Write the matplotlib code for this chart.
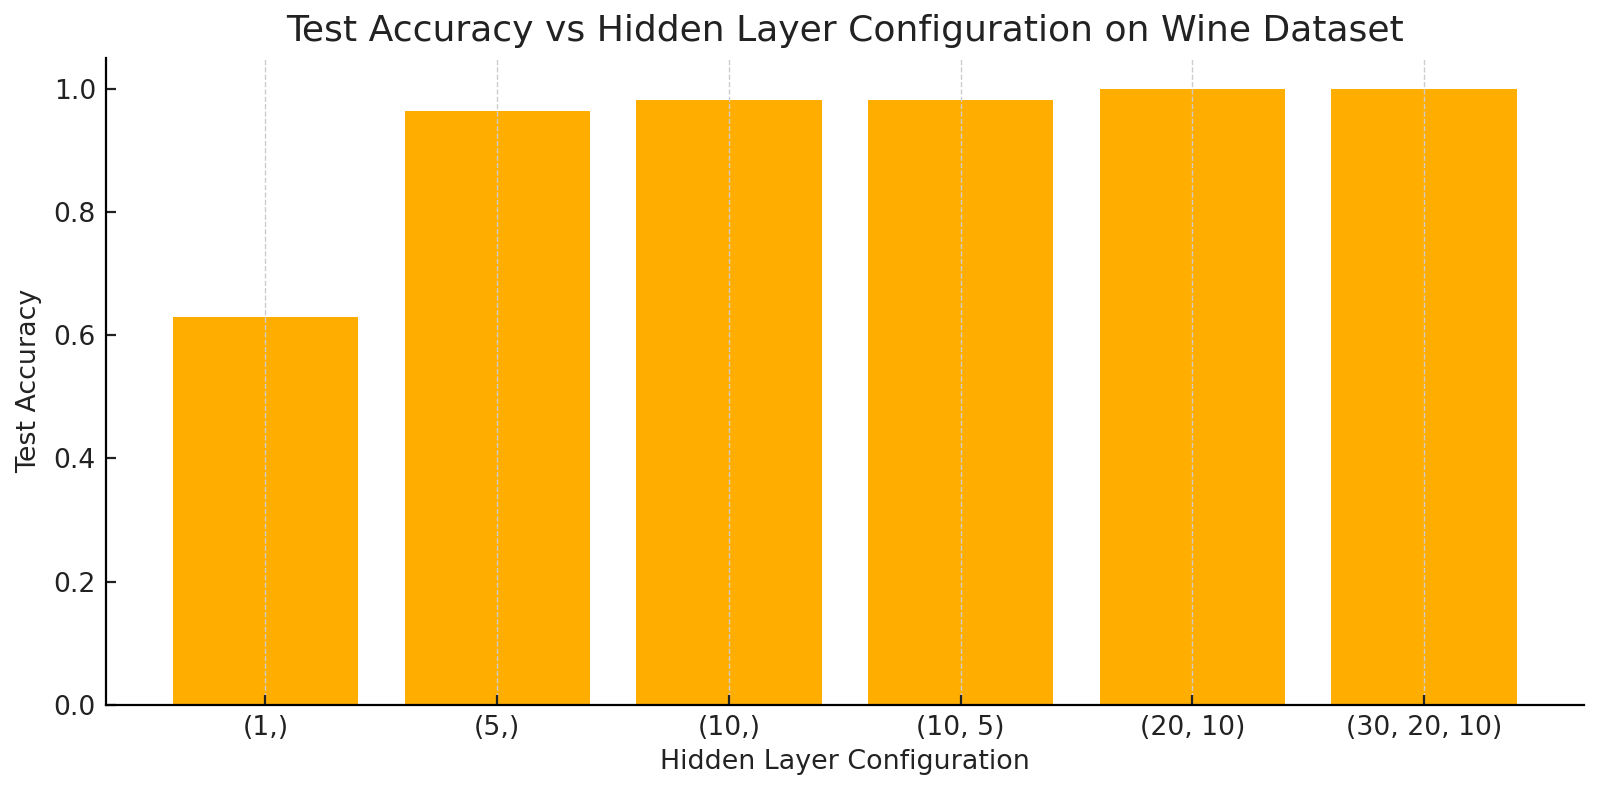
import matplotlib.pyplot as plt

configs = ["(1,)", "(5,)", "(10,)", "(10, 5)", "(20, 10)", "(30, 20, 10)"]
accuracy = [0.6296, 0.9630, 0.9815, 0.9815, 1.0, 1.0]

fig, ax = plt.subplots(figsize=(8, 3.96), dpi=200)
fig.subplots_adjust(left=0.066, right=0.99, bottom=0.11, top=0.927)

ax.bar(configs, accuracy, width=0.8, color="#ffae00")
ax.set_ylim(0, 1.05)
ax.grid(axis="x", linestyle="--", color="#cccccc", linewidth=0.5)

ax.spines["top"].set_visible(False)
ax.spines["right"].set_visible(False)
ax.tick_params(direction="in", labelsize=9.6, colors="#222222", labelcolor="#222222")

ax.set_title("Test Accuracy vs Hidden Layer Configuration on Wine Dataset", fontsize=13, color="#222222")
ax.set_xlabel("Hidden Layer Configuration", fontsize=9.7, color="#222222", labelpad=3)
ax.set_ylabel("Test Accuracy", fontsize=9.7, color="#222222")

fig.savefig("out.png")
